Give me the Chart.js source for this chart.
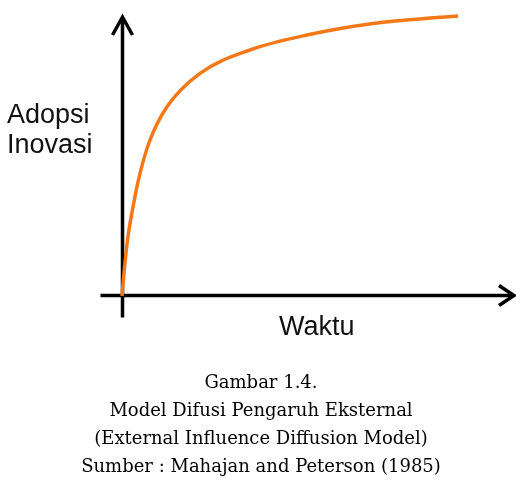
<!DOCTYPE html>
<html>
<head>
<meta charset="utf-8">
<script src="https://cdn.jsdelivr.net/npm/chart.js@4"></script>
<style>
  body { margin:0; background:#fff; }
  #wrap { position:relative; width:516px; height:490px; }
  #c { position:absolute; left:0; top:0; }
  .lbl { position:absolute; font-family:"Liberation Sans", Arial, sans-serif; font-size:27px; line-height:30px; color:#111; }
  #cap { position:absolute; left:0; width:522px; top:368px; text-align:center;
         font-family:"DejaVu Serif", serif; font-size:18px; line-height:28px; color:#000; }
</style>
</head>
<body>
<div id="wrap">
  <canvas id="c" width="516" height="490"></canvas>
  <div class="lbl" style="left:7px; top:99px;">Adopsi<br>Inovasi</div>
  <div class="lbl" style="left:279px; top:311px;">Waktu</div>
  <div id="cap">Gambar 1.4.<br>Model Difusi Pengaruh Eksternal<br>(External Influence Diffusion Model)<br>Sumber : Mahajan and Peterson (1985)</div>
</div>
<script>
// waktu (time) vs adopsi inovasi
var waktu  = [0, 2, 5.5, 11, 18, 28, 45, 78, 128, 185, 251, 318, 336];
var adopsi = [0, 23, 56, 89, 122.7, 156, 189.3, 222.7, 246, 261, 272.5, 278.7, 280];

var points = [];
for (var i = 0; i < waktu.length; i++) {
  points.push({x: waktu[i], y: adopsi[i]});
}

var arrowAxes = {
  id: 'arrowAxes',
  beforeDatasetsDraw: function(chart) {
    var ctx = chart.ctx;
    var xs = chart.scales.x, ys = chart.scales.y;
    var x0 = xs.getPixelForValue(0) + 0.5;
    var y0 = ys.getPixelForValue(0) - 0.5;
    var top = chart.chartArea.top;
    var right = chart.chartArea.right;
    ctx.save();
    ctx.strokeStyle = '#000';
    ctx.lineWidth = 3.5;
    ctx.lineCap = 'butt';
    ctx.lineJoin = 'miter';
    // y axis
    ctx.beginPath();
    ctx.moveTo(x0, y0 + 22);
    ctx.lineTo(x0, top + 1);
    ctx.stroke();
    ctx.beginPath();
    ctx.moveTo(x0 - 10, top + 18);
    ctx.lineTo(x0, top);
    ctx.lineTo(x0 + 10, top + 18);
    ctx.stroke();
    // x axis
    ctx.beginPath();
    ctx.moveTo(x0 - 22, y0);
    ctx.lineTo(right - 1, y0);
    ctx.stroke();
    ctx.beginPath();
    ctx.moveTo(right - 15, y0 - 10);
    ctx.lineTo(right, y0);
    ctx.lineTo(right - 15, y0 + 10);
    ctx.stroke();
    ctx.restore();
  }
};

new Chart(document.getElementById('c'), {
  type: 'line',
  data: {
    datasets: [{
      data: points,
      borderColor: 'rgb(242,120,24)',
      borderWidth: 3.5,
      pointRadius: 0,
      fill: false,
      cubicInterpolationMode: 'monotone',
      clip: false
    }]
  },
  options: {
    responsive: false,
    animation: false,
    layout: { padding: { left: 122, top: 17, right: 2, bottom: 194 } },
    plugins: { legend: { display: false }, tooltip: { enabled: false } },
    scales: {
      x: { type: 'linear', min: 0, max: 392, display: false },
      y: { type: 'linear', min: 0, max: 279, display: false }
    }
  },
  plugins: [arrowAxes]
});
</script>
</body>
</html>
